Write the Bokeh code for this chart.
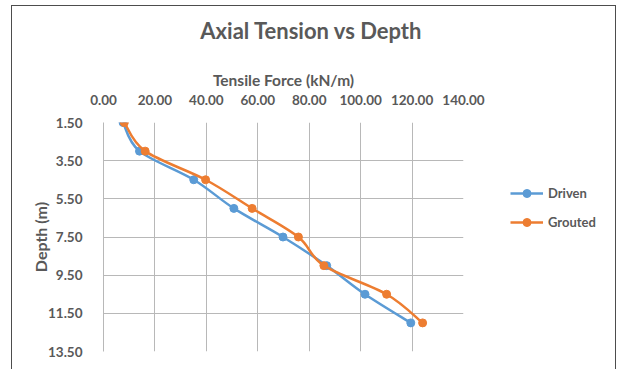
from bokeh.plotting import figure
from bokeh.layouts import column, row
from bokeh.models import (Range1d, FixedTicker, PrintfTickFormatter, Legend, LegendItem,
                          ColumnDataSource, InlineStyleSheet, Label)
from bokeh.embed import file_html
from bokeh.resources import INLINE

# ---- data ----
depth = [1.5, 3.0, 4.5, 6.0, 7.5, 9.0, 10.5, 12.0]
driven = [7.6, 14.0, 35.1, 50.7, 69.8, 86.8, 101.7, 119.5]
grouted = [8.1, 16.2, 39.7, 57.8, 75.8, 85.7, 110.1, 124.1]
series_names = ["Driven", "Grouted"]
x_ticks = [0, 20, 40, 60, 80, 100, 120, 140]
y_ticks = [1.5, 3.5, 5.5, 7.5, 9.5, 11.5, 13.5]
title_text = "Axial Tension vs Depth"

TXT = "#595959"
FONT = "Lato"
BLUE = "#5B9BD5"
ORANGE = "#ED7D31"
GRID = "#B8B8B8"
TOP_H = 60


def bare(width, height):
    f = figure(width=width, height=height, output_backend="svg", toolbar_location=None,
               x_axis_type=None, y_axis_type=None, min_border=0)
    f.outline_line_color = None
    f.border_fill_color = "white"
    f.background_fill_color = "white"
    return f


# ---- title strip ----
pt = bare(619, TOP_H)
pt.add_layout(Label(x=311, y=TOP_H - 30, x_units="screen", y_units="screen", text=title_text,
                    text_align="center", text_baseline="middle", text_font=FONT,
                    text_font_size="22px", text_font_style="bold", text_color=TXT))

# ---- main chart ----
p = figure(width=486, height=369 - TOP_H, output_backend="svg", toolbar_location=None,
           x_range=Range1d(0, 140), y_range=Range1d(13.5, 1.5),
           x_axis_location="above",
           min_border_left=103, min_border_right=23, min_border_top=122 - TOP_H, min_border_bottom=18)
p.outline_line_color = None
p.background_fill_color = "white"
p.border_fill_color = "white"

xa = p.xaxis[0]
xa.ticker = FixedTicker(ticks=x_ticks)
xa.formatter = PrintfTickFormatter(format="%.2f")
xa.axis_label = "Tensile Force (kN/m)"
xa.axis_line_color = None
xa.major_tick_line_color = None
xa.minor_tick_line_color = None
xa.major_label_standoff = 12
xa.axis_label_standoff = 3

ya = p.yaxis[0]
ya.ticker = FixedTicker(ticks=y_ticks)
ya.formatter = PrintfTickFormatter(format="%.2f")
ya.axis_label = "Depth (m)"
ya.axis_line_color = GRID
ya.major_tick_line_color = None
ya.minor_tick_line_color = None
ya.major_label_standoff = 15
ya.axis_label_standoff = -5

for ax in (xa, ya):
    ax.major_label_text_font = FONT
    ax.major_label_text_font_size = "13.5px"
    ax.major_label_text_font_style = "bold"
    ax.major_label_text_color = TXT
    ax.axis_label_text_font = FONT
    ax.axis_label_text_font_style = "bold"
    ax.axis_label_text_color = TXT
xa.axis_label_text_font_size = "15.5px"
ya.axis_label_text_font_size = "16px"

p.xgrid.ticker = FixedTicker(ticks=x_ticks)
p.ygrid.ticker = FixedTicker(ticks=y_ticks)
p.xgrid.grid_line_color = GRID
p.ygrid.grid_line_color = GRID


def smooth_segments(xs, ys):
    n = len(xs)
    x0, y0, x1, y1, cx0, cy0, cx1, cy1 = [], [], [], [], [], [], [], []
    for i in range(n - 1):
        pm = i - 1 if i > 0 else i
        pp = i + 2 if i + 2 < n else i + 1
        x0.append(xs[i]); y0.append(ys[i])
        x1.append(xs[i + 1]); y1.append(ys[i + 1])
        cx0.append(xs[i] + (xs[i + 1] - xs[pm]) / 6.0)
        cy0.append(ys[i] + (ys[i + 1] - ys[pm]) / 6.0)
        cx1.append(xs[i + 1] - (xs[pp] - xs[i]) / 6.0)
        cy1.append(ys[i + 1] - (ys[pp] - ys[i]) / 6.0)
    return dict(x0=x0, y0=y0, x1=x1, y1=y1, cx0=cx0, cy0=cy0, cx1=cx1, cy1=cy1)


# ---- legend strip ----
pl = bare(133, 369 - TOP_H)
items = []
for name, vals, col in zip(series_names, (driven, grouted), (BLUE, ORANGE)):
    seg = ColumnDataSource(smooth_segments(vals, depth))
    p.bezier(x0="x0", y0="y0", x1="x1", y1="y1", cx0="cx0", cy0="cy0", cx1="cx1", cy1="cy1",
             source=seg, line_color=col, line_width=2.5)
    p.scatter(vals, depth, size=8, fill_color=col, line_color=col, marker="circle")
    l_line = pl.line(vals, depth, line_color=col, line_width=2.5, visible=False)
    l_pts = pl.scatter(vals, depth, size=8, fill_color=col, line_color=col, marker="circle",
                       visible=False)
    items.append(LegendItem(label=name, renderers=[l_line, l_pts]))

legend = Legend(items=items, location=(24, 119), orientation="vertical",
                padding=0, margin=0, border_line_color=None, background_fill_alpha=0,
                glyph_width=33, glyph_height=20, label_height=20, spacing=9, label_standoff=5,
                label_text_font=FONT, label_text_font_size="13px", label_text_font_style="bold",
                label_text_color=TXT)
pl.add_layout(legend)

layout = column(pt, row(p, pl, spacing=0), spacing=0)
layout.stylesheets = [InlineStyleSheet(css="""
:host { position: relative; }
:host::after { content: ""; position: absolute; left: 11px; top: 5px; right: 3px; bottom: 0px;
  border-left: 1.5px solid #4D4D4D; border-top: 1.5px solid #4D4D4D; border-right: 1.5px solid #4D4D4D;
  pointer-events: none; z-index: 10; }
""")]

open("out.html", "w").write(file_html(layout, INLINE))
